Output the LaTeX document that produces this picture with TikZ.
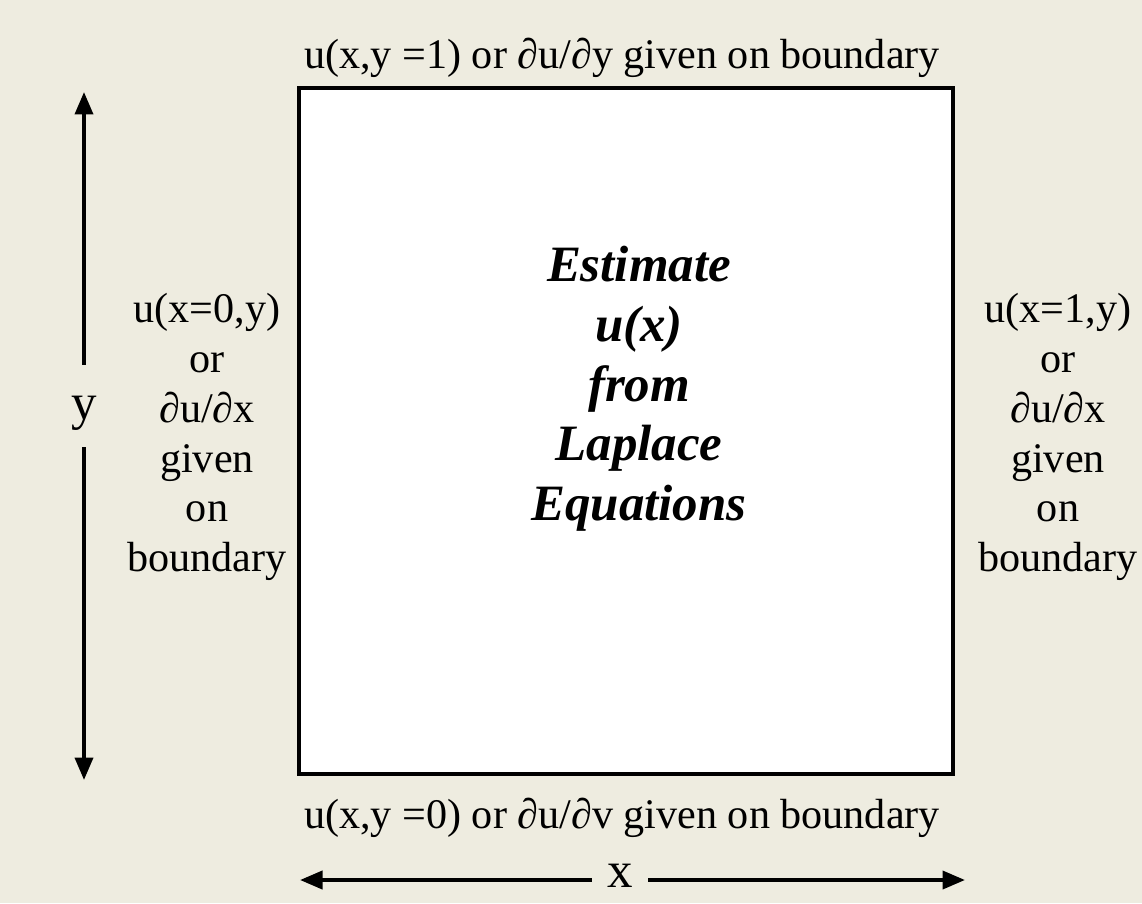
\documentclass[tikz,border=0pt]{standalone}
\usepackage{fontspec}
\setmainfont{Liberation Serif}
\usepackage{tikz}
\usetikzlibrary{arrows.meta, positioning}
\definecolor{paperbeige}{HTML}{EEECE0}

\begin{document}
\begin{tikzpicture}[x=0.02cm, y=-0.02cm,
  every node/.style={font=\fontsize{24}{28.4}\selectfont},
  sidelabel/.style={align=center, inner sep=0pt},
  axislabel/.style={inner sep=0pt, font=\fontsize{29}{30}\selectfont},
  axisarrow/.style={line width=2.2pt, -{Triangle[length=4.5mm, width=3.6mm]}}]
  \fill[paperbeige] (0,0) rectangle (1142,903);
  \useasboundingbox (0,0) rectangle (1142,903);

  % domain and its boundary conditions
  \node[draw, line width=1.8pt, fill=white, minimum width=13.08cm, minimum height=13.72cm] (domain) at (626,431) {};
  \node[align=center, inner sep=0pt, font=\fontsize{29}{34}\selectfont\bfseries\itshape] (estimate) at (639,389)
    {Estimate\\u(x)\\from\\Laplace\\Equations};
  \node[inner sep=0pt] (topbc) at (622,58) {u(x,y =1) or ∂u/∂y given on boundary};
  \node[inner sep=0pt] (bottombc) at (622,818) {u(x,y =0) or ∂u/∂v given on boundary};
  \node[sidelabel] (leftbc) at (207,437) {u(x=0,y)\\or\\∂u/∂x\\given\\on\\boundary};
  \node[sidelabel] (rightbc) at (1058,437) {u(x=1,y)\\or\\∂u/∂x\\given\\on\\boundary};

  % axes
  \node[axislabel, minimum height=1.64cm] (ylab) at (84,413) {y};
  \coordinate (ytop) at (84,92);
  \coordinate (ybottom) at (84,780);
  \draw[axisarrow] ([yshift=0.14cm]ylab.north) -- (ytop);
  \draw[axisarrow] ([yshift=0.14cm]ylab.south) -- (ybottom);

  \node[axislabel, minimum width=1.12cm] (xlab) at (620,876) {x};
  \coordinate (xleft) at (300,880);
  \coordinate (xright) at (965,880);
  \draw[axisarrow] (xlab.west |- xleft) -- (xleft);
  \draw[axisarrow] (xlab.east |- xright) -- (xright);
\end{tikzpicture}
\end{document}
